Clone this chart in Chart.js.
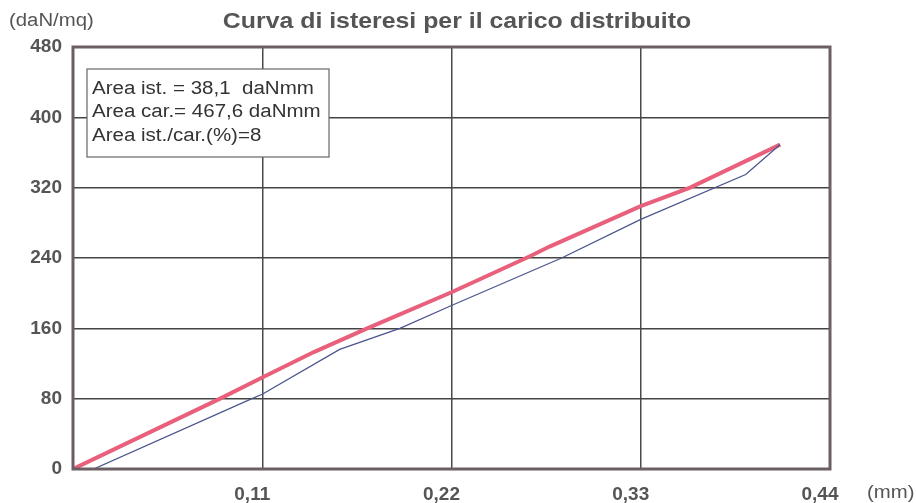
<!DOCTYPE html>
<html>
<head>
<meta charset="utf-8">
<script src="https://cdn.jsdelivr.net/npm/chart.js@4/dist/chart.umd.min.js"></script>
<style>
html,body{margin:0;padding:0;background:#fff;}
#wrap{width:916px;height:503px;position:relative;}
</style>
</head>
<body>
<div id="wrap"><canvas id="c" width="916" height="503"></canvas></div>
<script>
// Data
const loadX = [0, 0.0855, 0.11, 0.14, 0.171, 0.22, 0.2656, 0.277, 0.33, 0.3587, 0.411];
const loadY = [0, 80, 104, 133, 160, 201, 242, 253, 299, 320, 369];
const unloadX = [0.411, 0.391, 0.33, 0.284, 0.22, 0.19, 0.155, 0.11, 0.104, 0.012];
const unloadY = [369, 335, 284, 240, 186, 160, 136, 85, 80, 0];
const xTicks = [0, 0.11, 0.22, 0.33, 0.44];
const yTicks = [0, 80, 160, 240, 320, 400, 480];
const titleText = "Curva di isteresi per il carico distribuito";
const yUnit = "(daN/mq)";
const xUnit = "(mm)";
const boxLines = ["Area ist. = 38,1  daNmm", "Area car.= 467,6 daNmm", "Area ist./car.(%)=8"];

const toPts = (xs, ys) => xs.map((x, i) => ({x: x, y: ys[i]}));

function stretchText(ctx, text, x, y, sx) {
  ctx.save();
  ctx.translate(x, y);
  ctx.scale(sx, 1);
  ctx.fillText(text, 0, 0);
  ctx.restore();
}

const decor = {
  id: 'decor',
  afterDraw(chart) {
    const ctx = chart.ctx;
    const a = chart.chartArea;
    ctx.save();
    // frame
    ctx.strokeStyle = '#6b5e64';
    ctx.lineWidth = 3;
    ctx.strokeRect(a.left, a.top, a.right - a.left, a.bottom - a.top);
    // title
    ctx.fillStyle = '#555';
    ctx.font = 'bold 22px "Liberation Sans", Arial, sans-serif';
    ctx.textAlign = 'center';
    ctx.textBaseline = 'middle';
    stretchText(ctx, titleText, 457, 22, 1.13);
    // units
    ctx.font = '18px "Liberation Sans", Arial, sans-serif';
    ctx.textAlign = 'left';
    stretchText(ctx, yUnit, 9, 21, 1.13);
    stretchText(ctx, xUnit, 867, 493, 1.13);
    // text box
    ctx.fillStyle = '#fff';
    ctx.fillRect(87, 69, 242, 88);
    ctx.strokeStyle = '#666';
    ctx.lineWidth = 1.2;
    ctx.strokeRect(87, 69, 242, 88);
    ctx.fillStyle = '#333';
    ctx.font = '18px "Liberation Sans", Arial, sans-serif';
    boxLines.forEach((t, i) => stretchText(ctx, t, 92, 89 + i * 23.5, 1.14));
    ctx.restore();
  }
};

new Chart(document.getElementById('c'), {
  type: 'scatter',
  data: {
    datasets: [
      {
        label: 'carico',
        data: toPts(loadX, loadY),
        showLine: true,
        borderColor: '#e8607c',
        borderWidth: 4,
        pointRadius: 0,
        tension: 0,
        order: 2
      },
      {
        label: 'scarico',
        data: toPts(unloadX, unloadY),
        showLine: true,
        borderColor: '#4c558e',
        borderWidth: 1.3,
        pointRadius: 0,
        tension: 0,
        order: 1
      }
    ]
  },
  options: {
    responsive: false,
    animation: false,
    layout: {padding: {top: 47, right: 86, left: 0, bottom: 0}},
    plugins: {legend: {display: false}, tooltip: {enabled: false}, title: {display: false}},
    scales: {
      x: {
        type: 'linear',
        min: 0, max: 0.44,
        afterBuildTicks: s => { s.ticks = xTicks.map(v => ({value: v})); },
        afterFit: s => { s.height = 34; },
        grid: {color: '#4a4a4a', lineWidth: 1.5, drawTicks: false},
        border: {display: false},
        ticks: {
          padding: 14,
          labelOffset: -10,
          color: '#555',
          font: {family: '"Liberation Sans", Arial, sans-serif', size: 19, weight: 'bold'},
          callback: v => v === 0 ? '' : v.toFixed(2).replace('.', ',')
        }
      },
      y: {
        type: 'linear',
        min: 0, max: 480,
        afterBuildTicks: s => { s.ticks = yTicks.map(v => ({value: v})); },
        afterFit: s => { s.width = 73; },
        grid: {color: '#444', lineWidth: 1.5, drawTicks: false},
        border: {display: false},
        ticks: {
          padding: 11,
          color: '#555',
          font: {family: '"Liberation Sans", Arial, sans-serif', size: 19, weight: 'bold'},
          callback: v => String(v)
        }
      }
    }
  },
  plugins: [decor]
});
</script>
</body>
</html>
